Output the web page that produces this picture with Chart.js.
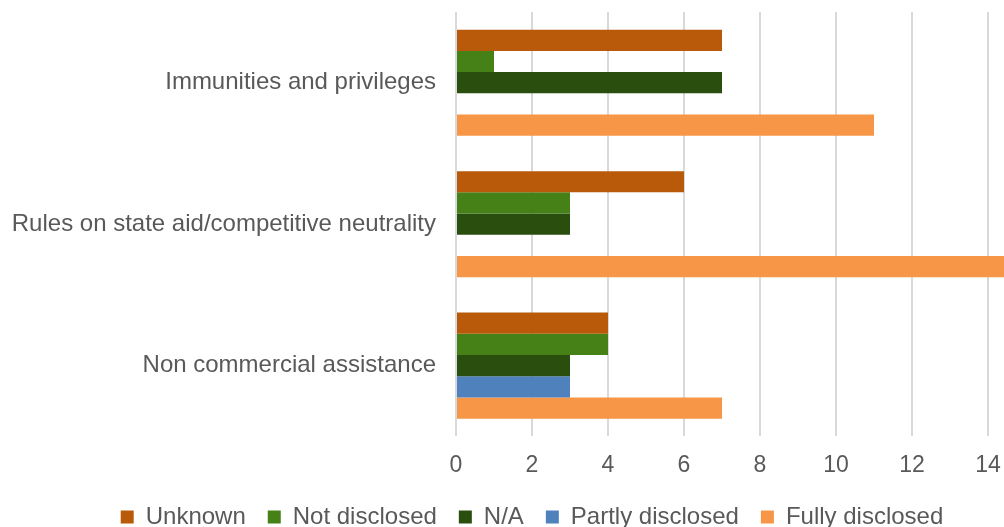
<!DOCTYPE html>
<html>
<head>
<meta charset="utf-8">
<script src="https://cdn.jsdelivr.net/npm/chart.js@4.4.1/dist/chart.umd.min.js"></script>
<style>
  html, body { margin: 0; padding: 0; background: #fff; }
  #wrap { width: 1004px; height: 527px; overflow: hidden; position: relative; }
  #box { width: 1068px; height: 539px; position: absolute; left: 0; top: 0; }
</style>
</head>
<body>
<div id="wrap"><div id="box"><canvas id="bar_cnt"></canvas></div></div>
<script>
// categories, top to bottom
const categories = ['Immunities and privileges', 'Rules on state aid/competitive neutrality', 'Non commercial assistance'];

// series values (same order as categories)
const unknownVals      = [7, 6, 4];
const notDisclosedVals = [1, 3, 4];
const naVals           = [7, 3, 3];
const partlyVals       = [0, 0, 3];
const fullyVals        = [11, 15, 7];

const xTicks = [0, 2, 4, 6, 8, 10, 12, 14, 16];

const textGrey = '#595959';
const fontFam = '"Liberation Sans", Arial, sans-serif';

function ds(label, data, color) {
    return {
        label: label,
        data: data,
        backgroundColor: color,
        borderWidth: 0,
        barPercentage: 1.0,
        categoryPercentage: 0.75
    };
}

new Chart(document.getElementById('bar_cnt'), {
    type: 'bar',
    data: {
        labels: categories,
        datasets: [
            ds('Unknown', unknownVals, '#B85A09'),
            ds('Not disclosed', notDisclosedVals, '#458116'),
            ds('N/A', naVals, '#2A4E0E'),
            ds('Partly disclosed', partlyVals, '#4F81BD'),
            ds('Fully disclosed', fullyVals, '#F79646')
        ]
    },
    options: {
        indexAxis: 'y',
        responsive: true,
        maintainAspectRatio: false,
        animation: false,
        layout: { padding: { top: 12, left: 0, right: 4, bottom: 0 } },
        scales: {
            x: {
                min: 0,
                max: 16,
                grid: { color: '#D9D9D9', lineWidth: 2, drawTicks: false },
                border: { display: false },
                afterBuildTicks: (scale) => { scale.ticks = xTicks.map(v => ({ value: v })); },
                afterFit: (scale) => { scale.paddingRight = 0; scale.paddingLeft = 0; scale.height -= 11; },
                ticks: {
                    padding: 15,
                    color: textGrey,
                    font: { family: fontFam, size: 23 }
                }
            },
            y: {
                grid: { display: false, drawTicks: false },
                border: { display: false },
                afterFit: (scale) => { scale.width = 456; scale.paddingTop = 0; scale.paddingBottom = 0; },
                ticks: {
                    padding: 20,
                    color: textGrey,
                    font: { family: fontFam, size: 24 }
                }
            }
        },
        plugins: {
            legend: {
                position: 'bottom',
                labels: {
                    boxWidth: 13,
                    boxHeight: 13,
                    padding: 22,
                    color: textGrey,
                    font: { family: fontFam, size: 24 }
                }
            },
            tooltip: { enabled: false }
        }
    }
});
</script>
</body>
</html>
